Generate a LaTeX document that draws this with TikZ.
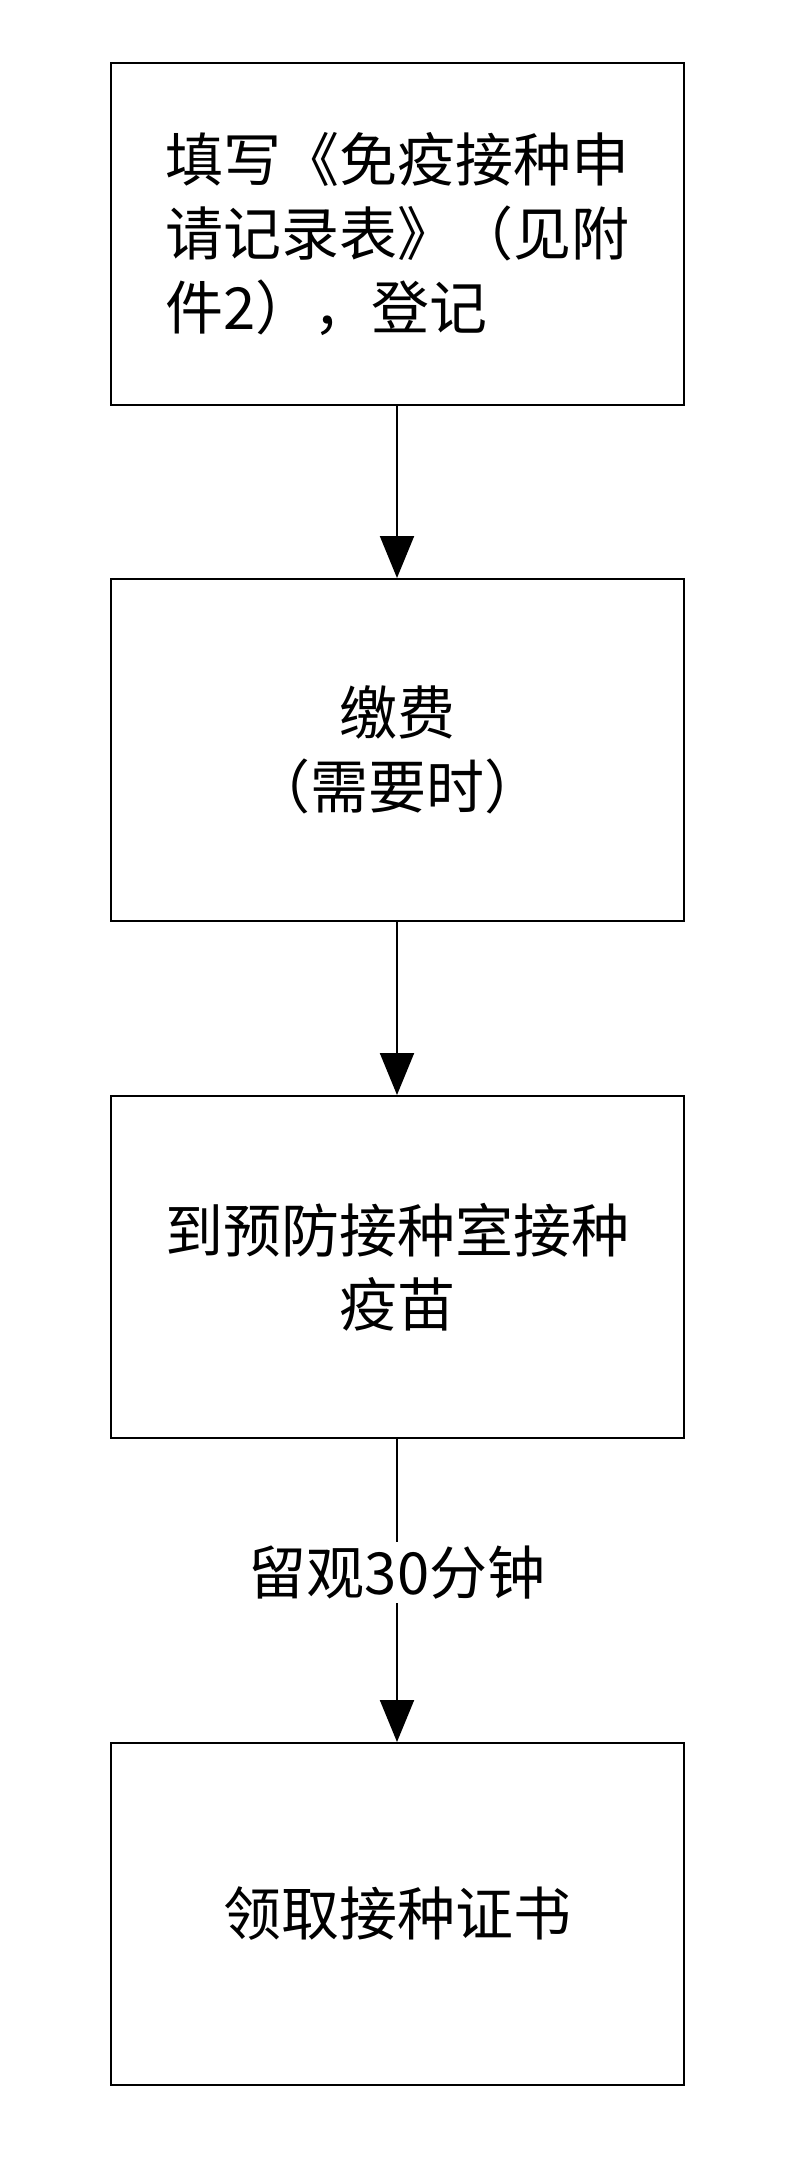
\documentclass[tikz,border=0pt]{standalone}
\usepackage{fontspec}
\setmainfont{Noto Sans CJK SC}
\usetikzlibrary{arrows.meta}
\begin{document}
\begin{tikzpicture}[x=1pt,y=1pt,
  box/.style={draw,line width=2pt,minimum width=573pt,minimum height=342pt,align=center,font=\fontsize{58}{74}\selectfont,inner sep=0pt},
  arr/.style={line width=2pt,-{Triangle[length=42pt,width=34pt]}}]
\useasboundingbox (0,0) rectangle (800,-2180);
\fill[white] (0,0) rectangle (800,-2180);
\node[box,align=left] (a) at (397,-234) {填写《免疫接种申\\请记录表》（见附\\件2），登记};
\node[box] (b) at (397,-750) {缴费\\（需要时）};
\node[box] (c) at (397,-1267) {到预防接种室接种\\疫苗};
\node[box] (d) at (397,-1914) {领取接种证书};
\draw[arr] (a) -- (b);
\draw[arr] (b) -- (c);
\draw[arr] (c) -- (d) node[pos=0.44,fill=white,inner sep=4pt,font=\fontsize{58}{70}\selectfont] (l) {留观30分钟};
\end{tikzpicture}
\end{document}
